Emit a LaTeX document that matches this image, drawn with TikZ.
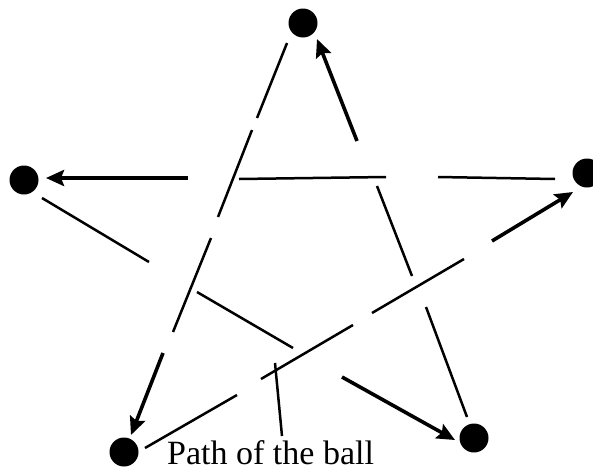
\documentclass[tikz,border=0pt]{standalone}
\usepackage{fontspec}
\setmainfont{Liberation Serif}
\usetikzlibrary{arrows.meta}
\tikzset{
  ball/.style={circle,fill=black,inner sep=0pt,minimum size=29pt},
  seg/.style={line width=2.5pt},
  move/.style={line width=3.6pt,-{Stealth[length=18pt,width=16pt,inset=3pt]}}
}
\begin{document}
\begin{tikzpicture}[x=1pt,y=-1pt]
\useasboundingbox (0,0) rectangle (593,471);
% the five positions of the ball
\node[ball] (top) at (303,23) {};
\node[ball] (left) at (24,180) {};
\node[ball] (right) at (587,173) {};
\node[ball] (botleft) at (124,452) {};
\node[ball] (botright) at (474,438) {};
% top to bottom left
\draw[seg] (287,43) -- (257,118);
\draw[seg] (252,130) -- (218,217);
\draw[seg] (211,238) -- (173,332);
\draw[move] (163,353) -- (131,435);
% bottom left to right
\draw[seg] (145,448) -- (237,395);
\draw[seg] (261,379) -- (353,325);
\draw[seg] (372,313) -- (464,259);
\draw[move] (492,241) -- (573,192);
% right to left
\draw[seg] (555,179) -- (438,177);
\draw[seg] (386,177) -- (239,179);
\draw[move] (188,178) -- (46,178);
% left to bottom right
\draw[seg] (42,198) -- (149,262);
\draw[seg] (197,292) -- (293,348);
\draw[move] (342,377) -- (455,440);
% bottom right back to top
\draw[seg] (467,417) -- (426,307);
\draw[seg] (412,276) -- (377,186);
\draw[move] (357,141) -- (317,39);
% label
\node[anchor=base west,inner sep=0pt,font=\fontsize{34}{38}\selectfont] (label) at (167,464) {Path of the ball};
\coordinate (pointer) at (275,363);
\draw[seg] (282,436) -- (pointer);
\end{tikzpicture}
\end{document}
